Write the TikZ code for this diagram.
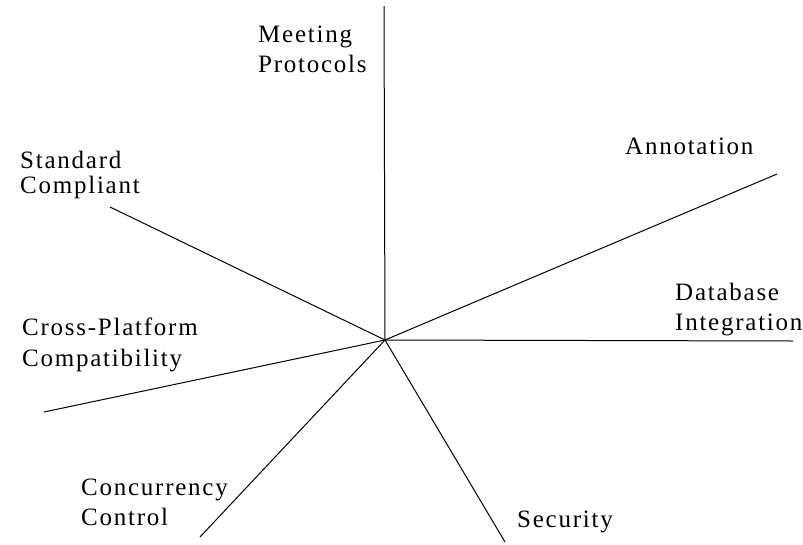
\documentclass[tikz,border=0pt]{standalone}
\usepackage{fontspec}
\setmainfont{Liberation Serif}[LetterSpace=7]
\begin{document}
\begin{tikzpicture}[x=1pt,y=-1pt,
  spoke/.style={line width=1pt, black},
  lbl/.style={anchor=base west, inner sep=0pt, font=\fontsize{25}{30}\selectfont}]
\useasboundingbox (0,0) rectangle (803,544);

% hub and the free ends of the spokes
\coordinate (hub) at (385,340);
\coordinate (eMeet) at (384,6);
\coordinate (eAnno) at (777,174);
\coordinate (eData) at (793,341);
\coordinate (eSec)  at (505,542);
\coordinate (eConc) at (200,537);
\coordinate (eCross) at (44,412);
\coordinate (eStd)  at (110,207);

\foreach \e in {eMeet,eAnno,eData,eSec,eConc,eCross,eStd}
  \draw[spoke] (hub) -- (\e);

% labels (first-line baseline, left edge)
\node[lbl] (meet) at (258,42) {\begin{tabular}[t]{@{}l@{}}Meeting\\Protocols\end{tabular}};
\node[lbl, font=\fontsize{25}{25}\selectfont] (std) at (20,168) {\begin{tabular}[t]{@{}l@{}}Standard\\Compliant\end{tabular}};
\node[lbl] (anno) at (625,154) {Annotation};
\node[lbl] (data) at (675,300) {\begin{tabular}[t]{@{}l@{}}Database\\Integration\end{tabular}};
\node[lbl, font=\fontsize{25}{31.5}\selectfont] (cross) at (22,335) {\begin{tabular}[t]{@{}l@{}}Cross-Platform\\Compatibility\end{tabular}};
\node[lbl] (conc) at (81,495) {\begin{tabular}[t]{@{}l@{}}Concurrency\\Control\end{tabular}};
\node[lbl] (sec) at (517,527) {Security};
\end{tikzpicture}
\end{document}
